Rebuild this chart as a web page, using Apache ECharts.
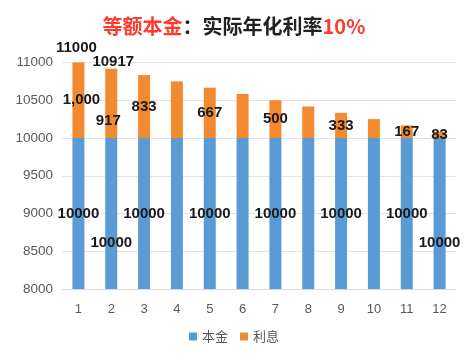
<!DOCTYPE html>
<html><head><meta charset="utf-8">
<script src="https://cdn.jsdelivr.net/npm/echarts@6/dist/echarts.min.js"></script>
<style>html,body{margin:0;padding:0;background:#fff}#c{width:468px;height:359px}</style>
</head><body><div id="c"></div>
<script>
const months = ['1','2','3','4','5','6','7','8','9','10','11','12'];
const principal = [10000,10000,10000,10000,10000,10000,10000,10000,10000,10000,10000,10000];
const interest = [1000,917,833,750,667,583,500,417,333,250,167,83];
const totals = [11000,10917,10833,10750,10667,10583,10500,10417,10333,10250,10167,10083];
const yTicks = [8000,8500,9000,9500,10000,10500,11000];

const labelShown = [0,1,2,4,6,8,10,11];
const pOffsets = {1:[0,29],11:[0,29]};
const iOffsets = {0:[3,0],1:[-3,17]};
const totShown = {0:[-2,-15],1:[2,-7]};
const lblFont = {fontFamily:'Liberation Sans, Arial, sans-serif',fontWeight:'bold',fontSize:15,color:'#1a1a1a',textBorderWidth:0};

const chart = echarts.init(document.getElementById('c'));
chart.setOption({
  animation:false,
  title:{text:'{r|等额本金}{b|：实际年化利率}{r|10%}',left:'center',top:11,
    textStyle:{rich:{
      r:{color:'#ff3b2f',fontSize:20,fontWeight:'bold',fontFamily:'Noto Sans CJK SC'},
      b:{color:'#222',fontSize:20,fontWeight:'bold',fontFamily:'Noto Sans CJK SC'}}}},
  grid:{left:62,right:12,top:62.5,bottom:70},
  legend:{bottom:11,left:'center',icon:'rect',itemWidth:8,itemHeight:8,itemGap:12,
    textStyle:{fontSize:13,color:'#595959',fontFamily:'Noto Sans CJK SC'},data:['本金','利息']},
  xAxis:{type:'category',data:months,axisTick:{show:false},
    axisLine:{lineStyle:{color:'#d9d9d9'}},
    axisLabel:{fontSize:13,color:'#595959',margin:14,fontFamily:'Liberation Sans, Arial'}},
  yAxis:{type:'value',min:yTicks[0],max:yTicks[yTicks.length-1],interval:500,
    axisLabel:{fontSize:13.5,color:'#595959',margin:9,fontFamily:'Liberation Sans, Arial',formatter:v=>String(v)},
    splitLine:{lineStyle:{color:'#e3e3e3'}},axisLine:{show:false}},
  series:[
    {name:'本金',type:'bar',stack:'a',barWidth:12,itemStyle:{color:'#5b9bd5'},
     data:principal.map((v,i)=>({value:v,label:{show:labelShown.includes(i),position:'inside',
       offset:pOffsets[i]||[0,0],formatter:String(v),...lblFont}}))},
    {name:'利息',type:'bar',stack:'a',barWidth:12,itemStyle:{color:'#f28a30'},
     data:interest.map((v,i)=>({value:v,label:{show:labelShown.includes(i),position:'inside',
       offset:iOffsets[i]||[0,0],formatter:i===0?v.toLocaleString('en-US'):String(v),...lblFont}}))},
    {name:'合计',type:'scatter',symbolSize:0,silent:true,clip:false,z:5,itemStyle:{color:'#000',opacity:1},
     data:totals.map((v,i)=>({value:v,label:{show:i in totShown,position:'inside',
       offset:totShown[i]||[0,0],formatter:String(v),...lblFont}}))}
  ]
});
</script></body></html>
